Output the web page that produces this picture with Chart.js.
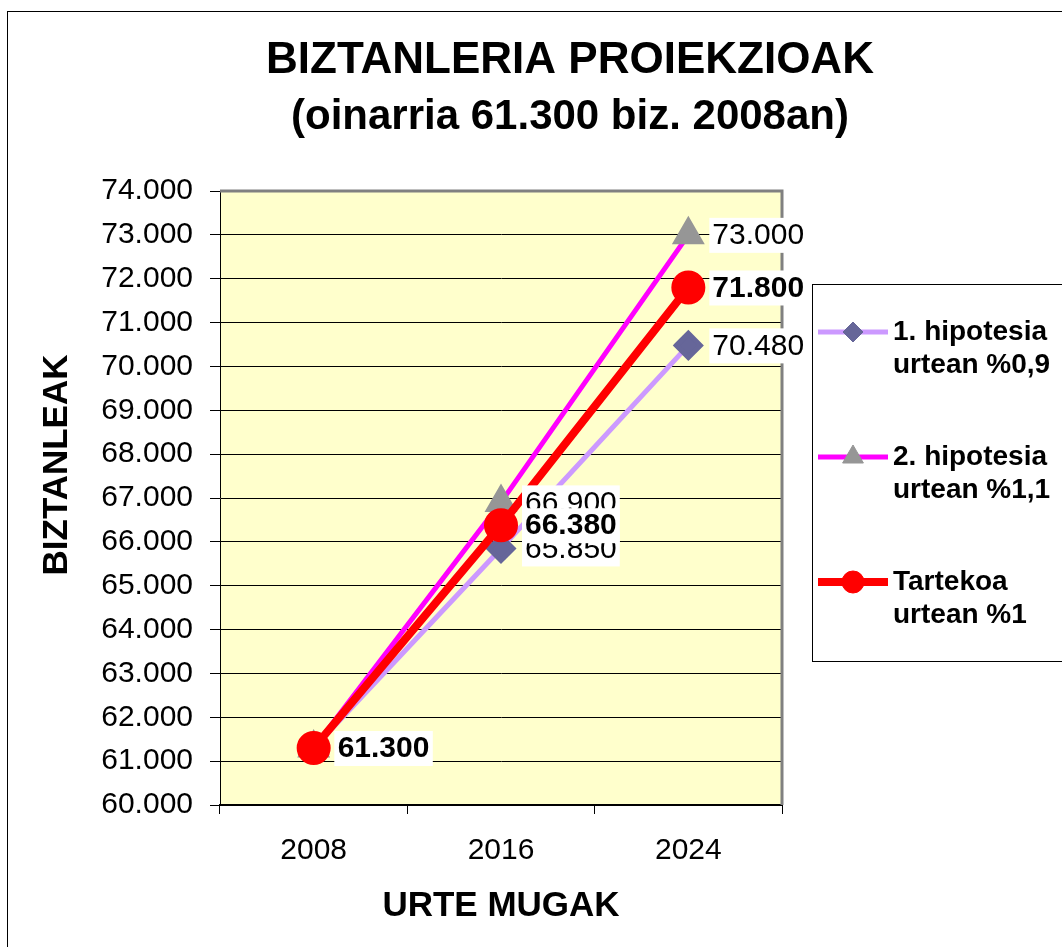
<!DOCTYPE html>
<html>
<head>
<meta charset="utf-8">
<title>Biztanleria proiekzioak</title>
<script src="https://cdn.jsdelivr.net/npm/chart.js@4.4.1/dist/chart.umd.min.js"></script>
<style>
    html, body { margin: 0; padding: 0; background: #fff; }
    #wrap { position: relative; width: 1062px; height: 947px; }
</style>
</head>
<body>
<div id="wrap"><canvas id="chart" width="1062" height="947"></canvas></div>
<script>
/* ===== DATA ===== */
const years = ["2008", "2016", "2024"];
const hipotesia1 = [61300, 65850, 70480];
const hipotesia2 = [61300, 66900, 73000];
const tartekoa = [61300, 66380, 71800];
const seriesNames = [
    ["1. hipotesia", "urtean %0,9"],
    ["2. hipotesia", "urtean %1,1"],
    ["Tartekoa", "urtean %1"]
];
const yMin = 60000, yMax = 74000, yStep = 1000;
const titleLines = ["BIZTANLERIA PROIEKZIOAK", "(oinarria 61.300 biz. 2008an)"];
const yTitle = "BIZTANLEAK";
const xTitle = "URTE MUGAK";

const FONT = "'Liberation Sans', Arial, sans-serif";
const fmt = v => String(v).replace(/\B(?=(\d{3})+(?!\d))/g, ".");

/* ===== FRAME + PLOT BACKGROUND ===== */
const framePlugin = {
    id: "frame",
    beforeDraw(chart) {
        const { ctx, chartArea: a } = chart;
        ctx.save();
        ctx.fillStyle = "#fff";
        ctx.fillRect(0, 0, chart.width, chart.height);
        ctx.strokeStyle = "#000";
        ctx.lineWidth = 1;
        ctx.strokeRect(7.5, 11.5, 1200, 1000);
        ctx.fillStyle = "#FFFFCC";
        ctx.fillRect(a.left, a.top, a.right - a.left, a.bottom - a.top);
        ctx.restore();
    },
    beforeDatasetsDraw(chart) {
        const { ctx, chartArea: a } = chart;
        ctx.save();
        ctx.strokeStyle = "#808080";
        ctx.lineWidth = 3;
        ctx.beginPath();
        ctx.moveTo(a.left, a.top);
        ctx.lineTo(a.right, a.top);
        ctx.lineTo(a.right, a.bottom);
        ctx.stroke();
        ctx.restore();
    }
};

/* ===== DATA LABELS ===== */
const labelPlugin = {
    id: "valueLabels",
    afterDatasetsDraw(chart) {
        const ctx = chart.ctx;
        ctx.save();
        chart.data.datasets.forEach((ds, i) => {
            const meta = chart.getDatasetMeta(i);
            ctx.font = (i === 2 ? "bold " : "") + "30px " + FONT;
            ctx.textBaseline = "middle";
            ctx.textAlign = "left";
            meta.data.forEach((pt, j) => {
                const txt = fmt(ds.data[j]);
                const w = ctx.measureText(txt).width;
                ctx.fillStyle = "#fff";
                ctx.fillRect(pt.x + 21, pt.y - 17, w + 6, 35);
                ctx.fillStyle = "#000";
                ctx.fillText(txt, pt.x + 24, pt.y + 1);
            });
        });
        ctx.restore();
    }
};

/* ===== TITLES + LEGEND ===== */
const textPlugin = {
    id: "texts",
    afterDraw(chart) {
        const ctx = chart.ctx;
        ctx.save();
        ctx.fillStyle = "#000";
        ctx.textAlign = "center";
        ctx.textBaseline = "middle";
        ctx.font = "bold 44px " + FONT;
        ctx.fillText(titleLines[0], 570, 61);
        ctx.font = "bold 42px " + FONT;
        ctx.fillText(titleLines[1], 570, 117);

        // y title
        ctx.save();
        ctx.translate(57, 465);
        ctx.rotate(-Math.PI / 2);
        ctx.font = "bold 35px " + FONT;
        ctx.fillText(yTitle, 0, 0);
        ctx.restore();

        // legend
        ctx.strokeStyle = "#000";
        ctx.lineWidth = 1;
        ctx.strokeRect(812.5, 284.5, 400, 377);
        const rowY = [332, 457, 582];
        chart.data.datasets.forEach((ds, i) => {
            const y = rowY[i];
            ctx.strokeStyle = ds.borderColor;
            ctx.lineWidth = ds.borderWidth;
            ctx.beginPath();
            ctx.moveTo(818, y);
            ctx.lineTo(888, y);
            ctx.stroke();
            ctx.fillStyle = ds.pointBackgroundColor;
            ctx.strokeStyle = ds.pointBorderColor;
            ctx.lineWidth = 1;
            Chart.helpers.drawPoint(ctx, {
                pointStyle: ds.pointStyle,
                radius: ds.pointRadius - 2,
                rotation: 0,
                borderWidth: 1
            }, 853, y);
            ctx.fillStyle = "#000";
            ctx.textAlign = "left";
            ctx.font = "bold 28px " + FONT;
            ctx.fillText(seriesNames[i][0], 893, y);
            ctx.fillText(seriesNames[i][1], 893, y + 33);
        });
        ctx.restore();
    }
};

/* ===== CHART ===== */
new Chart(document.getElementById("chart"), {
    type: "line",
    data: {
        labels: years,
        datasets: [
            {
                label: seriesNames[0].join(" "),
                data: hipotesia1,
                borderColor: "#CC99FF",
                borderWidth: 5,
                pointStyle: "rectRot",
                pointRadius: 12,
                pointBackgroundColor: "#666699",
                pointBorderColor: "#666699",
                order: 3
            },
            {
                label: seriesNames[1].join(" "),
                data: hipotesia2,
                borderColor: "#FF00FF",
                borderWidth: 5,
                pointStyle: "triangle",
                pointRadius: 14,
                pointBackgroundColor: "#969696",
                pointBorderColor: "#969696",
                order: 2
            },
            {
                label: seriesNames[2].join(" "),
                data: tartekoa,
                borderColor: "#FF0000",
                borderWidth: 8,
                pointStyle: "circle",
                pointRadius: 13,
                pointBackgroundColor: "#FF0000",
                pointBorderColor: "#FF0000",
                order: 1
            }
        ]
    },
    options: {
        responsive: false,
        devicePixelRatio: 1,
        animation: false,
        layout: { padding: { top: 191, right: 280, bottom: 0, left: 0 } },
        elements: { line: { tension: 0 } },
        plugins: {
            legend: { display: false },
            title: { display: false },
            tooltip: { enabled: false }
        },
        scales: {
            x: {
                offset: true,
                grid: { offset: true, drawOnChartArea: false, drawTicks: true, tickLength: 9, color: "#000" },
                border: { color: "#000", width: 2 },
                ticks: { color: "#000", font: { family: FONT, size: 30 }, padding: 19, maxRotation: 0 },
                title: {
                    display: true, text: xTitle, color: "#000",
                    font: { family: FONT, size: 35, weight: "bold" },
                    padding: { top: 20, bottom: 20 }
                },
                afterFit(s) { s.height = 142; s.paddingLeft = 0; s.paddingRight = 0; }
            },
            y: {
                min: yMin,
                max: yMax,
                grid: { color: "#000", lineWidth: 1, tickLength: 10 },
                border: { color: "#000", width: 1 },
                ticks: {
                    stepSize: yStep, color: "#000", padding: 17,
                    font: { family: FONT, size: 30 },
                    callback: v => fmt(v)
                },
                afterFit(s) { s.width = 220; s.paddingTop = 0; s.paddingBottom = 0; }
            }
        }
    },
    plugins: [framePlugin, labelPlugin, textPlugin]
});
</script>
</body>
</html>
